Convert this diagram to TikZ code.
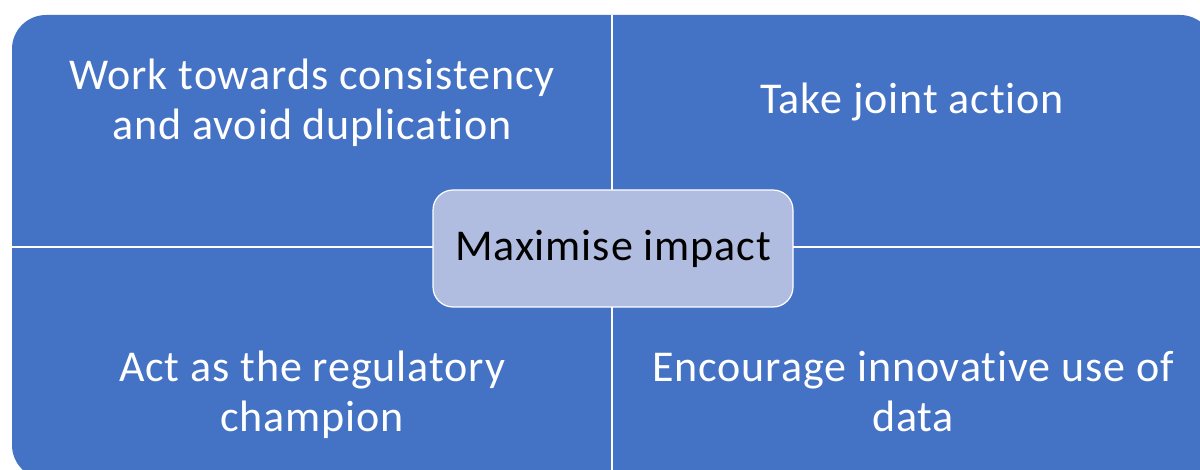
\documentclass[tikz,border=0pt]{standalone}
\usepackage{fontspec}
\setmainfont[LetterSpace=2,Ligatures=NoCommon]{Carlito}
\definecolor{quadblue}{HTML}{4472C4}
\definecolor{hubfill}{HTML}{B1BDE0}

\begin{document}
\begin{tikzpicture}[x=1pt,y=-1pt,
    quad/.style={text=white,font=\fontsize{44}{50}\selectfont,align=center,anchor=base},
    hub/.style={fill=hubfill,draw=white,line width=1.2pt,rounded corners=20pt,
      minimum width=360pt,minimum height=117pt,font=\fontsize{44}{50}\selectfont}]
  \useasboundingbox (0,0) rectangle (1200,470);
  % four quadrants as one rounded block, split by thin white lines
  \fill[quadblue,rounded corners=34pt] (12,15) rectangle (1214,479);
  \draw[white,line width=1.2pt] (612,15) -- (612,479);
  \draw[white,line width=1.2pt] (12,247) -- (1214,247);
  % base anchor sits on the last line
  \node[quad] (consistency) at (312,140) {Work towards consistency\\and avoid duplication};
  \node[quad] (joint) at (912,114) {Take joint action};
  \node[quad] (champion) at (312,431) {Act as the regulatory\\champion};
  \node[quad] (innovative) at (913,431) {Encourage innovative use of\\data};
  \node[hub] (impact) at (613,248.5) {Maximise impact};
\end{tikzpicture}
\end{document}
